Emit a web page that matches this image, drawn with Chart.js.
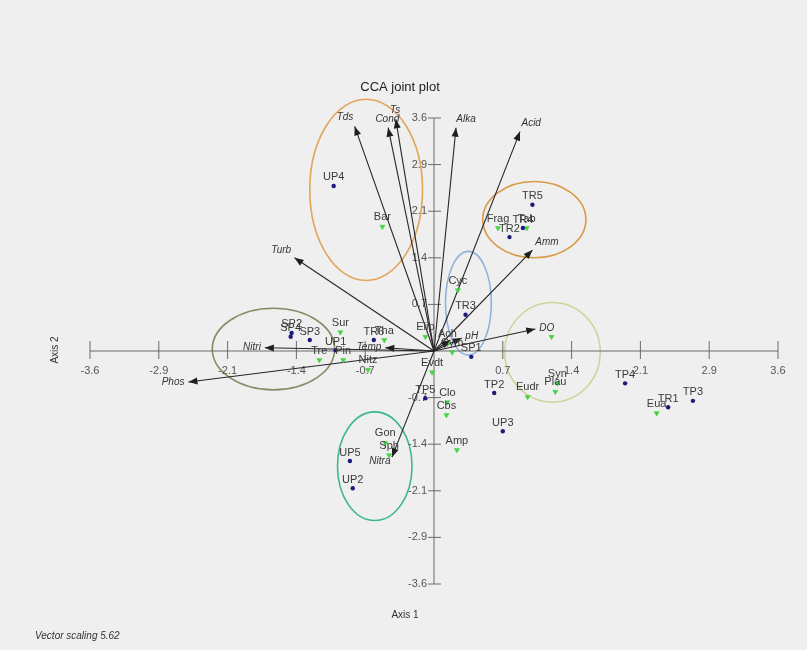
<!DOCTYPE html>
<html>
<head>
<meta charset="utf-8">
<script src="https://cdn.jsdelivr.net/npm/chart.js@4.4.1/dist/chart.umd.min.js"></script>
<style>
  html, body { margin: 0; padding: 0; background: #efefef; }
  canvas { display: block; }
</style>
</head>
<body>
<canvas id="cca" width="807" height="650"></canvas>
<script>
// Sample scores (Axis 1, Axis 2)
const siteNames = ['UP4','TR5','TR4','TR2','TR3','SP1','SP3','SP2','SP4','UP1','TR6','TP5','TP2','UP3','UP5','UP2','TP4','TR1','TP3'];
const siteAxis1 = [-1.05, 1.03, 0.93, 0.79, 0.33, 0.39, -1.30, -1.49, -1.50, -1.03, -0.63, -0.09, 0.63, 0.72, -0.88, -0.85, 2.00, 2.45, 2.71];
const siteAxis2 = [ 2.55, 2.26, 1.90, 1.76, 0.56, -0.09, 0.17, 0.28, 0.22, 0.01, 0.17, -0.73, -0.65, -1.24, -1.70, -2.12, -0.50, -0.87, -0.77];

// Taxon scores (Axis 1, Axis 2)
const speciesNames = ['Bar','Frag','Tab','Cyc','Sur','Tha','Tre','Pin','Nitz','Elip','Evdt','Ach','Cym','Clo','Cbs','Amp','Gon','Sph','Eudr','Plau','Syn','','Eua'];
const speciesAxis1 = [-0.54, 0.67, 0.97, 0.25, -0.98, -0.52, -1.20, -0.95, -0.69, -0.09, -0.02, 0.14, 0.19, 0.14, 0.13, 0.24, -0.51, -0.47, 0.98, 1.27, 1.29, 1.23, 2.33];
const speciesAxis2 = [ 1.92, 1.90, 1.90, 0.94, 0.29, 0.17, -0.14, -0.14, -0.29, 0.22, -0.33, 0.11, -0.02, -0.79, -0.99, -1.53, -1.42, -1.61, -0.71, -0.63, -0.50, 0.22, -0.96];

// Environmental variable vectors (scaled tips)
const vectorNames = ['Tds','Cond','Ts','Alka','Acid','Turb','Amm','pH','DO','Nitri','Phos','Temp','Nitra',''];
const vectorAxis1 = [-0.83, -0.48, -0.40, 0.23, 0.90, -1.46, 1.03, 0.29, 1.06, -1.77, -2.57, -0.51, -0.44, 0.17];
const vectorAxis2 = [ 3.47, 3.45, 3.58, 3.45, 3.39, 1.44, 1.56, 0.20, 0.34, 0.05, -0.48, 0.05, -1.64, 0.17];

// Group envelopes: centre and half-widths in axis units
const groupCx = [-0.71, 1.05, 0.36, -1.68, 1.24, -0.62];
const groupCy = [ 2.49, 2.03, 0.74, 0.03, -0.02, -1.78];
const groupRx = [ 0.59, 0.54, 0.24, 0.64, 0.50, 0.39];
const groupRy = [ 1.40, 0.59, 0.80, 0.63, 0.77, 0.84];
const groupColors = ['#e2a55a', '#d99a45', '#8fb3dc', '#8c8a66', '#cfd49a', '#3db889'];

// Axis ticks
const tickValues = [-3.6, -2.88, -2.16, -1.44, -0.72, 0.72, 1.44, 2.16, 2.88, 3.6];
const tickLabels = ['-3.6','-2.9','-2.1','-1.4','-0.7','0.7','1.4','2.1','2.9','3.6'];

const FONT = '"Liberation Sans", Arial, sans-serif';

const vectorSets = vectorNames.map((n, i) => ({
  label: 'vec-' + i,
  data: [{x: 0, y: 0}, {x: vectorAxis1[i], y: vectorAxis2[i]}],
  showLine: true,
  borderColor: '#262626',
  borderWidth: 1.1,
  pointRadius: 0,
  clip: false,
  order: 3
}));

const siteSet = {
  label: 'sites',
  data: siteNames.map((n, i) => ({x: siteAxis1[i], y: siteAxis2[i]})),
  pointStyle: 'circle',
  pointRadius: 2.2,
  backgroundColor: '#1b1b7d',
  borderColor: '#1b1b7d',
  borderWidth: 0,
  clip: false,
  order: 1
};

const speciesSet = {
  label: 'species',
  data: speciesNames.map((n, i) => ({x: speciesAxis1[i], y: speciesAxis2[i]})),
  pointStyle: 'triangle',
  rotation: 180,
  pointRadius: 3,
  backgroundColor: '#45d145',
  borderColor: '#45d145',
  borderWidth: 0.5,
  clip: false,
  order: 2
};

const backdrop = {
  id: 'backdrop',
  beforeDraw(chart) {
    const c = chart.ctx;
    c.save();
    c.fillStyle = '#efefef';
    c.fillRect(0, 0, chart.width, chart.height);
    c.restore();
  }
};

const crossAxes = {
  id: 'crossAxes',
  beforeDatasetsDraw(chart) {
    const c = chart.ctx, xs = chart.scales.x, ys = chart.scales.y;
    const x0 = xs.getPixelForValue(0), y0 = ys.getPixelForValue(0);
    c.save();
    // group envelopes
    groupCx.forEach((cx, i) => {
      const px = xs.getPixelForValue(cx), py = ys.getPixelForValue(groupCy[i]);
      const rx = Math.abs(xs.getPixelForValue(cx + groupRx[i]) - px);
      const ry = Math.abs(ys.getPixelForValue(groupCy[i] + groupRy[i]) - py);
      c.beginPath();
      c.ellipse(px, py, rx, ry, 0, 0, Math.PI * 2);
      c.strokeStyle = groupColors[i];
      c.lineWidth = 1.6;
      c.stroke();
    });
    // axes through the origin
    c.strokeStyle = '#6a6a6a';
    c.lineWidth = 1;
    c.beginPath();
    c.moveTo(xs.getPixelForValue(-3.6), y0);
    c.lineTo(xs.getPixelForValue(3.6), y0);
    c.moveTo(x0, ys.getPixelForValue(3.6));
    c.lineTo(x0, ys.getPixelForValue(-3.6));
    c.stroke();
    c.font = '11px ' + FONT;
    c.fillStyle = '#555';
    tickValues.forEach((v, i) => {
      const px = xs.getPixelForValue(v);
      c.beginPath();
      c.moveTo(px, y0 - 10);
      c.lineTo(px, y0 + 8);
      c.stroke();
      c.textAlign = 'center';
      c.textBaseline = 'middle';
      c.fillText(tickLabels[i], px, y0 + 20);
      const py = ys.getPixelForValue(v);
      c.beginPath();
      c.moveTo(x0 - 6, py);
      c.lineTo(x0 + 7, py);
      c.stroke();
      c.textAlign = 'right';
      c.fillText(tickLabels[i], x0 - 7, py);
    });
    c.restore();
  }
};

const annotations = {
  id: 'annotations',
  afterDatasetsDraw(chart) {
    const c = chart.ctx, xs = chart.scales.x, ys = chart.scales.y;
    const x0 = xs.getPixelForValue(0), y0 = ys.getPixelForValue(0);
    c.save();
    // arrowheads and vector labels
    vectorNames.forEach((n, i) => {
      const tx = xs.getPixelForValue(vectorAxis1[i]), ty = ys.getPixelForValue(vectorAxis2[i]);
      const dx = tx - x0, dy = ty - y0, len = Math.hypot(dx, dy);
      const ux = dx / len, uy = dy / len;
      const L = 9, W = 3.5;
      c.beginPath();
      c.moveTo(tx, ty);
      c.lineTo(tx - ux * L - uy * W, ty - uy * L + ux * W);
      c.lineTo(tx - ux * L + uy * W, ty - uy * L - ux * W);
      c.closePath();
      c.fillStyle = '#1e1e1e';
      c.fill();
      if (!n) return;
      c.font = 'italic 10px ' + FONT;
      c.fillStyle = '#333';
      c.textAlign = ux < -0.3 ? 'right' : (ux > 0.05 ? 'left' : 'center');
      c.textBaseline = uy < -0.5 ? 'bottom' : (uy > 0.95 ? 'top' : 'middle');
      c.fillText(n, tx + ux * 4, ty + uy * 4);
    });
    // point labels
    c.font = '11px ' + FONT;
    c.fillStyle = '#3a3a3a';
    c.textAlign = 'center';
    c.textBaseline = 'bottom';
    const sitesMeta = chart.getDatasetMeta(chart.data.datasets.indexOf(siteSet));
    sitesMeta.data.forEach((el, i) => c.fillText(siteNames[i], el.x, el.y - 3));
    const spMeta = chart.getDatasetMeta(chart.data.datasets.indexOf(speciesSet));
    spMeta.data.forEach((el, i) => { if (speciesNames[i]) c.fillText(speciesNames[i], el.x, el.y - 4); });
    // titles
    c.fillStyle = '#222';
    c.font = '13px ' + FONT;
    c.textAlign = 'center';
    c.textBaseline = 'middle';
    c.fillText('CCA joint plot', 400, 87);
    c.font = '10px ' + FONT;
    c.fillStyle = '#333';
    c.fillText('Axis 1', 405, 615);
    c.save();
    c.translate(55, 350);
    c.rotate(-Math.PI / 2);
    c.fillText('Axis 2', 0, 0);
    c.restore();
    c.font = 'italic 10px ' + FONT;
    c.textAlign = 'left';
    c.fillText('Vector scaling 5.62', 35, 636);
    c.restore();
  }
};

new Chart(document.getElementById('cca'), {
  type: 'scatter',
  data: { datasets: [...vectorSets, speciesSet, siteSet] },
  options: {
    responsive: false,
    animation: false,
    events: [],
    layout: { padding: { left: 90, right: 29, top: 118, bottom: 66 } },
    scales: {
      x: { type: 'linear', min: -3.6, max: 3.6, display: false },
      y: { type: 'linear', min: -3.6, max: 3.6, display: false }
    },
    plugins: {
      legend: { display: false },
      tooltip: { enabled: false },
      title: { display: false }
    }
  },
  plugins: [backdrop, crossAxes, annotations]
});
</script>
</body>
</html>
